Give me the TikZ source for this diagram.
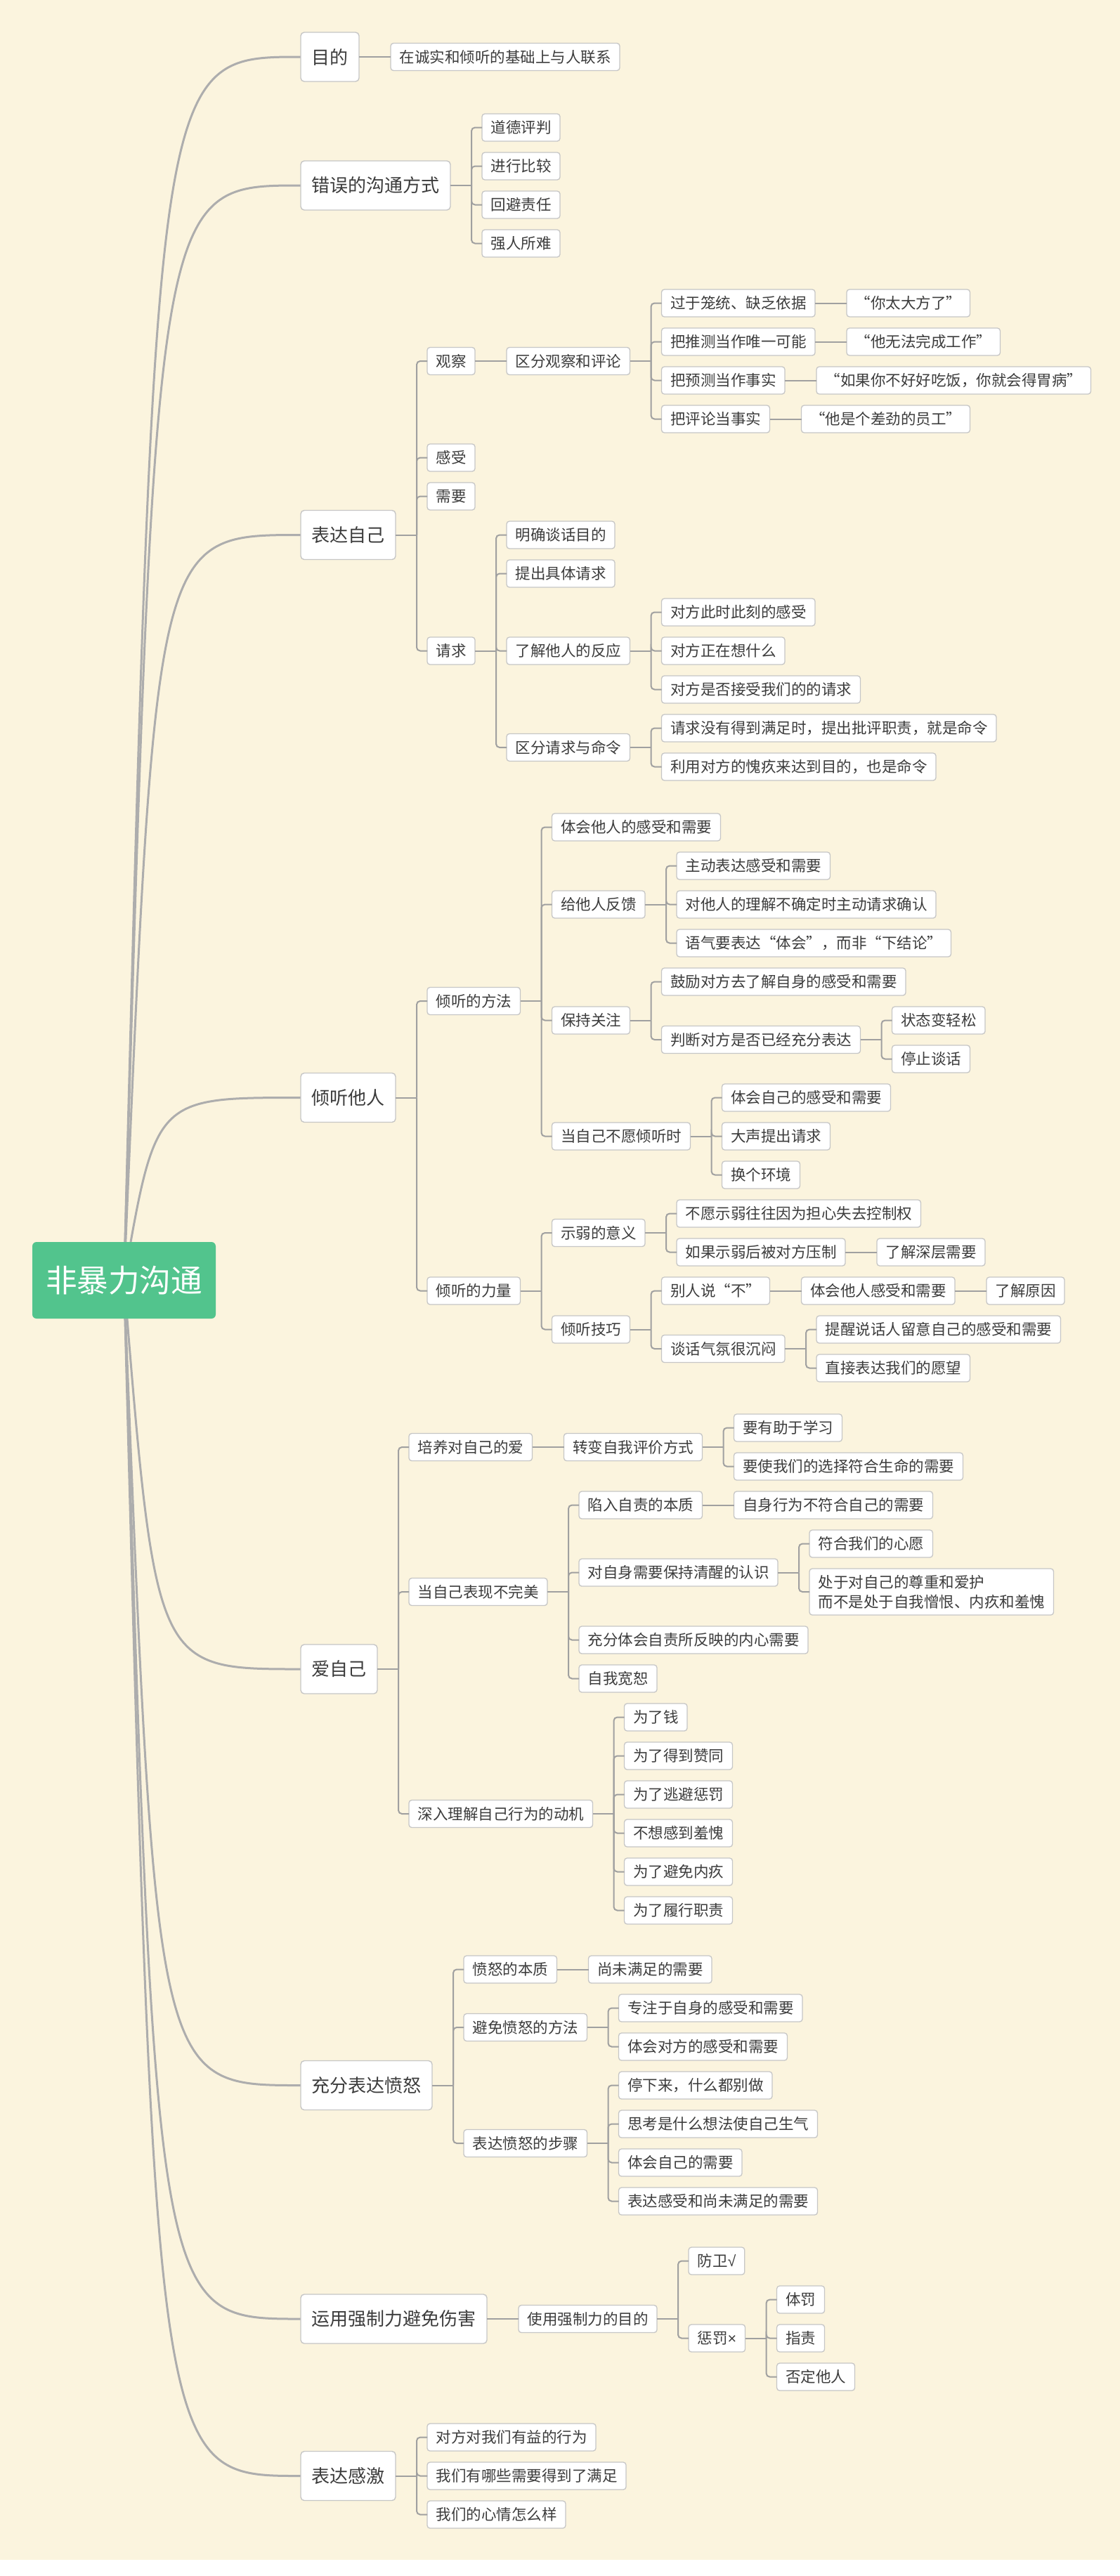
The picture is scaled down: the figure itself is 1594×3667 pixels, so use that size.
\documentclass[tikz,border=0pt]{standalone}
\usepackage{fontspec}
\newfontfamily\cjk{Noto Sans CJK SC}
\newfontfamily\marksans{Liberation Sans}
\usetikzlibrary{positioning, backgrounds}
\definecolor{paperCream}{HTML}{FBF4DE}
\definecolor{coreGreen}{HTML}{52C48D}
\definecolor{boxLine}{HTML}{C6C6C6}
\definecolor{inkGray}{HTML}{3C3C3C}
\definecolor{curveGray}{HTML}{ADADAD}
\definecolor{twigGray}{HTML}{A0A0A0}

\begin{document}
\begin{tikzpicture}[
    x=1pt, y=-1pt,
    node distance=45pt,
    mapcore/.style={rectangle, rounded corners=6pt, fill=coreGreen, text=white,
                 font=\cjk\fontsize{44.6}{50}\selectfont, outer sep=0pt,
                 minimum height=109pt, inner xsep=19pt, inner ysep=0pt},
    topicbox/.style={rectangle, rounded corners=5pt, draw=boxLine, line width=1.4pt,
                 fill=white, text=inkGray, font=\cjk\fontsize{26}{30}\selectfont,
                 outer sep=0pt, minimum height=70pt, inner xsep=15.5pt, inner ysep=0pt},
    leafbox/.style={rectangle, rounded corners=4pt, draw=boxLine, line width=1.3pt,
                 fill=white, text=inkGray, font=\cjk\fontsize{21.5}{28}\selectfont,
                 outer sep=0pt, minimum height=39pt, inner xsep=12.5pt, inner ysep=0pt},
    maincurve/.style={draw=curveGray, line width=3pt},
    twig/.style={draw=twigGray, line width=2pt, rounded corners=5pt},
  ]
    \useasboundingbox (0,0) rectangle (1594,3667);

    \node[mapcore] (core) at (176.5,1822.5) {非暴力沟通};
    \coordinate (hub) at (221.5,1822.5);

    % 目的
    \node[topicbox, anchor=west] (aim) at (428,81) {目的};
    \node[leafbox, right=of aim] (aim1) {在诚实和倾听的基础上与人联系};

    % 错误的沟通方式
    \node[topicbox, anchor=west] (wrong) at (428,264) {错误的沟通方式};
    \node[leafbox, right=of wrong, yshift=82.5pt] (wrong1) {道德评判};
    \node[leafbox, right=of wrong, yshift=27.5pt] (wrong2) {进行比较};
    \node[leafbox, right=of wrong, yshift=-27.5pt] (wrong3) {回避责任};
    \node[leafbox, right=of wrong, yshift=-82.5pt] (wrong4) {强人所难};

    % 表达自己
    \node[topicbox, anchor=west] (expr) at (428,761.5) {表达自己};
    \node[leafbox, right=of expr, yshift=247.5pt] (obs) {观察};
    \node[leafbox, right=of obs] (obs0) {区分观察和评论};
    \node[leafbox, right=of obs0, yshift=82.5pt] (obs1) {过于笼统、缺乏依据};
    \node[leafbox, right=of obs0, yshift=27.5pt] (obs2) {把推测当作唯一可能};
    \node[leafbox, right=of obs0, yshift=-27.5pt] (obs3) {把预测当作事实};
    \node[leafbox, right=of obs0, yshift=-82.5pt] (obs4) {把评论当事实};
    \node[leafbox, right=of obs1] (obs1q) {“你太大方了”};
    \node[leafbox, right=of obs2] (obs2q) {“他无法完成工作”};
    \node[leafbox, right=of obs3] (obs3q) {“如果你不好好吃饭，你就会得胃病”};
    \node[leafbox, right=of obs4] (obs4q) {“他是个差劲的员工”};
    \node[leafbox, right=of expr, yshift=110pt] (feel) {感受};
    \node[leafbox, right=of expr, yshift=55pt] (need) {需要};
    \node[leafbox, right=of expr, yshift=-165pt] (req) {请求};
    \node[leafbox, right=of req, yshift=165pt] (req1) {明确谈话目的};
    \node[leafbox, right=of req, yshift=110pt] (req2) {提出具体请求};
    \node[leafbox, right=of req] (req3) {了解他人的反应};
    \node[leafbox, right=of req, yshift=-137.5pt] (req4) {区分请求与命令};
    \node[leafbox, right=of req3, yshift=55pt] (req31) {对方此时此刻的感受};
    \node[leafbox, right=of req3] (req32) {对方正在想什么};
    \node[leafbox, right=of req3, yshift=-55pt] (req33) {对方是否接受我们的的请求};
    \node[leafbox, right=of req4, yshift=27.5pt] (req41) {请求没有得到满足时，提出批评职责，就是命令};
    \node[leafbox, right=of req4, yshift=-27.5pt] (req42) {利用对方的愧疚来达到目的，也是命令};

    % 倾听他人
    \node[topicbox, anchor=west] (listen) at (428,1562.5) {倾听他人};
    \node[leafbox, right=of listen, yshift=137.5pt] (way) {倾听的方法};
    \node[leafbox, right=of way, yshift=247.5pt] (way1) {体会他人的感受和需要};
    \node[leafbox, right=of way, yshift=137.5pt] (way2) {给他人反馈};
    \node[leafbox, right=of way, yshift=-27.5pt] (way3) {保持关注};
    \node[leafbox, right=of way, yshift=-192.5pt] (way4) {当自己不愿倾听时};
    \node[leafbox, right=of way2, yshift=55pt] (way21) {主动表达感受和需要};
    \node[leafbox, right=of way2] (way22) {对他人的理解不确定时主动请求确认};
    \node[leafbox, right=of way2, yshift=-55pt] (way23) {语气要表达“体会”，而非“下结论”};
    \node[leafbox, right=of way3, yshift=55pt] (way31) {鼓励对方去了解自身的感受和需要};
    \node[leafbox, right=of way3, yshift=-27.5pt] (way32) {判断对方是否已经充分表达};
    \node[leafbox, right=of way32, yshift=27.5pt] (way321) {状态变轻松};
    \node[leafbox, right=of way32, yshift=-27.5pt] (way322) {停止谈话};
    \node[leafbox, right=of way4, yshift=55pt] (way41) {体会自己的感受和需要};
    \node[leafbox, right=of way4] (way42) {大声提出请求};
    \node[leafbox, right=of way4, yshift=-55pt] (way43) {换个环境};
    \node[leafbox, right=of listen, yshift=-275pt] (power) {倾听的力量};
    \node[leafbox, right=of power, yshift=82.5pt] (pow1) {示弱的意义};
    \node[leafbox, right=of power, yshift=-55pt] (pow2) {倾听技巧};
    \node[leafbox, right=of pow1, yshift=27.5pt] (pow11) {不愿示弱往往因为担心失去控制权};
    \node[leafbox, right=of pow1, yshift=-27.5pt] (pow12) {如果示弱后被对方压制};
    \node[leafbox, right=of pow12] (pow121) {了解深层需要};
    \node[leafbox, right=of pow2, yshift=55pt] (pow21) {别人说“不”};
    \node[leafbox, right=of pow21] (pow211) {体会他人感受和需要};
    \node[leafbox, right=of pow211] (pow212) {了解原因};
    \node[leafbox, right=of pow2, yshift=-27.5pt] (pow22) {谈话气氛很沉闷};
    \node[leafbox, right=of pow22, yshift=27.5pt] (pow221) {提醒说话人留意自己的感受和需要};
    \node[leafbox, right=of pow22, yshift=-27.5pt] (pow222) {直接表达我们的愿望};

    % 爱自己
    \node[topicbox, anchor=west] (love) at (428,2376) {爱自己};
    \node[leafbox, right=of love, yshift=316pt] (selfl) {培养对自己的爱};
    \node[leafbox, right=of selfl] (selfl1) {转变自我评价方式};
    \node[leafbox, right=of selfl1, yshift=27.5pt] (selfl11) {要有助于学习};
    \node[leafbox, right=of selfl1, yshift=-27.5pt] (selfl12) {要使我们的选择符合生命的需要};
    \node[leafbox, right=of love, yshift=110pt] (flaw) {当自己表现不完美};
    \node[leafbox, right=of flaw, yshift=123.5pt] (flaw1) {陷入自责的本质};
    \node[leafbox, right=of flaw1] (flaw11) {自身行为不符合自己的需要};
    \node[leafbox, right=of flaw, yshift=27.5pt] (flaw2) {对自身需要保持清醒的认识};
    \node[leafbox, right=of flaw2, yshift=41pt] (flaw21) {符合我们的心愿};
    \node[leafbox, right=of flaw2, yshift=-27.5pt, align=left, minimum height=66pt] (flaw22)
      {处于对自己的尊重和爱护\\而不是处于自我憎恨、内疚和羞愧};
    \node[leafbox, right=of flaw, yshift=-68.5pt] (flaw3) {充分体会自责所反映的内心需要};
    \node[leafbox, right=of flaw, yshift=-123.5pt] (flaw4) {自我宽恕};
    \node[leafbox, right=of love, yshift=-206pt] (motive) {深入理解自己行为的动机};
    \node[leafbox, right=of motive, yshift=137.5pt] (mot1) {为了钱};
    \node[leafbox, right=of motive, yshift=82.5pt] (mot2) {为了得到赞同};
    \node[leafbox, right=of motive, yshift=27.5pt] (mot3) {为了逃避惩罚};
    \node[leafbox, right=of motive, yshift=-27.5pt] (mot4) {不想感到羞愧};
    \node[leafbox, right=of motive, yshift=-82.5pt] (mot5) {为了避免内疚};
    \node[leafbox, right=of motive, yshift=-137.5pt] (mot6) {为了履行职责};

    % 充分表达愤怒
    \node[topicbox, anchor=west] (anger) at (428,2968.5) {充分表达愤怒};
    \node[leafbox, right=of anger, yshift=165pt] (ang1) {愤怒的本质};
    \node[leafbox, right=of ang1] (ang11) {尚未满足的需要};
    \node[leafbox, right=of anger, yshift=82.5pt] (ang2) {避免愤怒的方法};
    \node[leafbox, right=of ang2, yshift=27.5pt] (ang21) {专注于自身的感受和需要};
    \node[leafbox, right=of ang2, yshift=-27.5pt] (ang22) {体会对方的感受和需要};
    \node[leafbox, right=of anger, yshift=-82.5pt] (ang3) {表达愤怒的步骤};
    \node[leafbox, right=of ang3, yshift=82.5pt] (ang31) {停下来，什么都别做};
    \node[leafbox, right=of ang3, yshift=27.5pt] (ang32) {思考是什么想法使自己生气};
    \node[leafbox, right=of ang3, yshift=-27.5pt] (ang33) {体会自己的需要};
    \node[leafbox, right=of ang3, yshift=-82.5pt] (ang34) {表达感受和尚未满足的需要};

    % 运用强制力避免伤害
    \node[topicbox, anchor=west] (force) at (428,3301) {运用强制力避免伤害};
    \node[leafbox, right=of force] (force1) {使用强制力的目的};
    \node[leafbox, right=of force1, yshift=82.5pt] (guard) {防卫{\marksans √}};
    \node[leafbox, right=of force1, yshift=-27.5pt] (punish) {惩罚{\marksans ×}};
    \node[leafbox, right=of punish, yshift=55pt] (punish1) {体罚};
    \node[leafbox, right=of punish] (punish2) {指责};
    \node[leafbox, right=of punish, yshift=-55pt] (punish3) {否定他人};

    % 表达感激
    \node[topicbox, anchor=west] (thank) at (428,3524.5) {表达感激};
    \node[leafbox, right=of thank, yshift=55pt] (thank1) {对方对我们有益的行为};
    \node[leafbox, right=of thank] (thank2) {我们有哪些需要得到了满足};
    \node[leafbox, right=of thank, yshift=-55pt] (thank3) {我们的心情怎么样};

    % single links
    \draw[twig] (aim) -- (aim1);
    \draw[twig] (obs) -- (obs0);
    \draw[twig] (obs1) -- (obs1q);
    \draw[twig] (obs2) -- (obs2q);
    \draw[twig] (obs3) -- (obs3q);
    \draw[twig] (obs4) -- (obs4q);
    \draw[twig] (pow12) -- (pow121);
    \draw[twig] (pow21) -- (pow211);
    \draw[twig] (pow211) -- (pow212);
    \draw[twig] (selfl) -- (selfl1);
    \draw[twig] (flaw1) -- (flaw11);
    \draw[twig] (ang1) -- (ang11);
    \draw[twig] (force) -- (force1);

    % forks
    \draw[twig] (wrong.east) -- ++(30pt,0) coordinate (wrong-j);
    \foreach \c in {wrong1,wrong2,wrong3,wrong4} \draw[twig] (\c.west) -| (wrong-j);
    \draw[twig] (expr.east) -- ++(30pt,0) coordinate (expr-j);
    \foreach \c in {obs,feel,need,req} \draw[twig] (\c.west) -| (expr-j);
    \draw[twig] (obs0.east) -- ++(30pt,0) coordinate (obs0-j);
    \foreach \c in {obs1,obs2,obs3,obs4} \draw[twig] (\c.west) -| (obs0-j);
    \draw[twig] (req.east) -- ++(30pt,0) coordinate (req-j);
    \foreach \c in {req1,req2,req3,req4} \draw[twig] (\c.west) -| (req-j);
    \draw[twig] (req3.east) -- ++(30pt,0) coordinate (req3-j);
    \foreach \c in {req31,req32,req33} \draw[twig] (\c.west) -| (req3-j);
    \draw[twig] (req4.east) -- ++(30pt,0) coordinate (req4-j);
    \foreach \c in {req41,req42} \draw[twig] (\c.west) -| (req4-j);

    \draw[twig] (listen.east) -- ++(30pt,0) coordinate (listen-j);
    \foreach \c in {way,power} \draw[twig] (\c.west) -| (listen-j);
    \draw[twig] (way.east) -- ++(30pt,0) coordinate (way-j);
    \foreach \c in {way1,way2,way3,way4} \draw[twig] (\c.west) -| (way-j);
    \draw[twig] (way2.east) -- ++(30pt,0) coordinate (way2-j);
    \foreach \c in {way21,way22,way23} \draw[twig] (\c.west) -| (way2-j);
    \draw[twig] (way3.east) -- ++(30pt,0) coordinate (way3-j);
    \foreach \c in {way31,way32} \draw[twig] (\c.west) -| (way3-j);
    \draw[twig] (way32.east) -- ++(30pt,0) coordinate (way32-j);
    \foreach \c in {way321,way322} \draw[twig] (\c.west) -| (way32-j);
    \draw[twig] (way4.east) -- ++(30pt,0) coordinate (way4-j);
    \foreach \c in {way41,way42,way43} \draw[twig] (\c.west) -| (way4-j);
    \draw[twig] (power.east) -- ++(30pt,0) coordinate (power-j);
    \foreach \c in {pow1,pow2} \draw[twig] (\c.west) -| (power-j);
    \draw[twig] (pow1.east) -- ++(30pt,0) coordinate (pow1-j);
    \foreach \c in {pow11,pow12} \draw[twig] (\c.west) -| (pow1-j);
    \draw[twig] (pow2.east) -- ++(30pt,0) coordinate (pow2-j);
    \foreach \c in {pow21,pow22} \draw[twig] (\c.west) -| (pow2-j);
    \draw[twig] (pow22.east) -- ++(30pt,0) coordinate (pow22-j);
    \foreach \c in {pow221,pow222} \draw[twig] (\c.west) -| (pow22-j);

    \draw[twig] (love.east) -- ++(30pt,0) coordinate (love-j);
    \foreach \c in {selfl,flaw,motive} \draw[twig] (\c.west) -| (love-j);
    \draw[twig] (selfl1.east) -- ++(30pt,0) coordinate (selfl1-j);
    \foreach \c in {selfl11,selfl12} \draw[twig] (\c.west) -| (selfl1-j);
    \draw[twig] (flaw.east) -- ++(30pt,0) coordinate (flaw-j);
    \foreach \c in {flaw1,flaw2,flaw3,flaw4} \draw[twig] (\c.west) -| (flaw-j);
    \draw[twig] (flaw2.east) -- ++(30pt,0) coordinate (flaw2-j);
    \foreach \c in {flaw21,flaw22} \draw[twig] (\c.west) -| (flaw2-j);
    \draw[twig] (motive.east) -- ++(30pt,0) coordinate (motive-j);
    \foreach \c in {mot1,mot2,mot3,mot4,mot5,mot6} \draw[twig] (\c.west) -| (motive-j);

    \draw[twig] (anger.east) -- ++(30pt,0) coordinate (anger-j);
    \foreach \c in {ang1,ang2,ang3} \draw[twig] (\c.west) -| (anger-j);
    \draw[twig] (ang2.east) -- ++(30pt,0) coordinate (ang2-j);
    \foreach \c in {ang21,ang22} \draw[twig] (\c.west) -| (ang2-j);
    \draw[twig] (ang3.east) -- ++(30pt,0) coordinate (ang3-j);
    \foreach \c in {ang31,ang32,ang33,ang34} \draw[twig] (\c.west) -| (ang3-j);

    \draw[twig] (force1.east) -- ++(30pt,0) coordinate (force1-j);
    \foreach \c in {guard,punish} \draw[twig] (\c.west) -| (force1-j);
    \draw[twig] (punish.east) -- ++(30pt,0) coordinate (punish-j);
    \foreach \c in {punish1,punish2,punish3} \draw[twig] (\c.west) -| (punish-j);

    \draw[twig] (thank.east) -- ++(30pt,0) coordinate (thank-j);
    \foreach \c in {thank1,thank2,thank3} \draw[twig] (\c.west) -| (thank-j);

    % paper and main curves
    \begin{scope}[on background layer]
      \fill[paperCream] (0,0) rectangle (1594,3644);
      \foreach \t in {aim,wrong,expr,listen,love,anger,force,thank}
        \draw[maincurve] (core.center) .. controls (hub |- \t.west) .. (\t.west);
    \end{scope}
  \end{tikzpicture}
\end{document}
